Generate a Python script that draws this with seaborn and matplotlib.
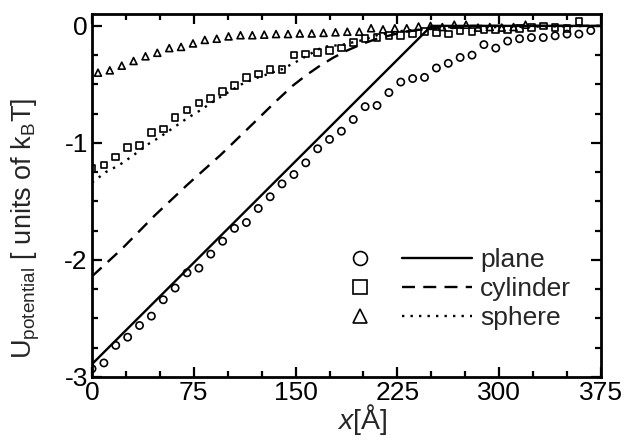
import numpy as np
import pandas as pd
import matplotlib
matplotlib.use("Agg")
import matplotlib.pyplot as plt
import seaborn as sns
from matplotlib.ticker import MultipleLocator
from matplotlib.legend_handler import HandlerTuple
from matplotlib.lines import Line2D

# ---------------- data ----------------
# simulated points (symbols)
x_plane = [0, 8.75, 17.5, 26.25, 35, 43.75, 52.5, 61.25, 70, 78.75, 87.5, 96.25,
           105, 113.75, 122.5, 131.25, 140, 148.75, 157.5, 166.25, 175, 183.75,
           192.5, 201.25, 210, 218.75, 227.5, 236.25, 245, 253.75, 262.5, 271.25,
           280, 288.75, 297.5, 306.25, 315, 323.75, 332.5, 341.25, 350, 358.75, 367.5]
u_plane = [-2.93, -2.88, -2.73, -2.66, -2.56, -2.48, -2.34, -2.24, -2.11, -2.07,
           -1.95, -1.84, -1.73, -1.68, -1.56, -1.46, -1.35, -1.27, -1.17, -1.05,
           -0.97, -0.90, -0.80, -0.69, -0.68, -0.57, -0.48, -0.45, -0.44, -0.36,
           -0.32, -0.27, -0.25, -0.16, -0.19, -0.13, -0.11, -0.10, -0.10, -0.085,
           -0.07, -0.07, -0.04]

x_cyl = [0, 8.75, 17.5, 26.25, 35, 43.75, 52.5, 61.25, 70, 78.75, 87.5, 96.25,
         105, 113.75, 122.5, 131.25, 140, 148.75, 157.5, 166.25, 175, 183.75,
         192.5, 201.25, 210, 218.75, 227.5, 236.25, 245, 253.75, 262.5, 271.25,
         280, 288.75, 297.5, 306.25, 315, 323.75, 332.5, 341.25, 350, 358.75]
u_cyl = [-1.22, -1.19, -1.12, -1.04, -1.02, -0.91, -0.88, -0.78, -0.72, -0.66,
         -0.62, -0.56, -0.51, -0.44, -0.41, -0.37, -0.37, -0.25, -0.24, -0.23,
         -0.21, -0.19, -0.14, -0.11, -0.10, -0.08, -0.08, -0.07, -0.05, -0.06,
         -0.07, -0.045, -0.05, -0.03, -0.03, -0.03, -0.02, -0.015, 0.0, -0.015,
         -0.02, 0.035]

x_sph = [4.4, 13.1, 21.9, 30.6, 39.4, 48.1, 56.9, 65.6, 74.4, 83.1, 91.9, 100.6,
         109.4, 118.1, 126.9, 135.6, 144.4, 153.1, 161.9, 170.6, 179.4, 188.1,
         196.9, 205.6, 214.4, 223.1, 231.9, 240.6, 249.4, 258.1, 266.9, 275.6,
         284.4, 293.1, 301.9, 310.6, 319.4]
u_sph = [-0.40, -0.38, -0.34, -0.30, -0.26, -0.23, -0.19, -0.18, -0.15, -0.12,
         -0.11, -0.09, -0.08, -0.08, -0.075, -0.07, -0.07, -0.065, -0.065, -0.06,
         -0.055, -0.05, -0.05, -0.02, -0.03, -0.02, -0.02, -0.005, 0.0, -0.01,
         0.01, 0.01, -0.015, -0.01, -0.015, -0.01, 0.01]

# theory curves (lines)
xt_plane = [0, 250, 375]
ut_plane = [-2.89, 0.0, 0.0]

xt_cyl = [0, 21.6, 46.2, 70, 95, 120, 135, 148, 158, 168, 178, 188, 200, 210,
          230, 250, 280, 375]
ut_cyl = [-2.14, -1.91, -1.62, -1.36, -1.10, -0.82, -0.65, -0.51, -0.42, -0.34,
          -0.27, -0.21, -0.15, -0.11, -0.05, -0.02, 0.0, 0.0]

xt_sph = [0, 10, 20, 30, 40, 50, 60, 70, 80, 90, 100, 110, 120, 140, 150, 170,
          185, 200, 210, 230, 260, 300, 375]
ut_sph = [-1.34, -1.25, -1.19, -1.11, -1.02, -0.95, -0.87, -0.79, -0.72, -0.64,
          -0.57, -0.50, -0.45, -0.37, -0.31, -0.18, -0.16, -0.12, -0.08, -0.04,
          -0.02, -0.01, 0.0]

labels = ["plane", "cylinder", "sphere"]
x_ticks = [0, 75, 150, 225, 300, 375]
y_ticks = [-3, -2, -1, 0]

# ---------------- style ----------------
sns.set_theme(style="ticks")
plt.rcParams["font.family"] = ["Liberation Sans", "DejaVu Sans"]
plt.rcParams["mathtext.fontset"] = "custom"
plt.rcParams["mathtext.rm"] = "Liberation Sans"
plt.rcParams["mathtext.it"] = "Liberation Sans:italic"
plt.rcParams["mathtext.bf"] = "Liberation Sans:bold"

FS = 19

fig = plt.figure(figsize=(6.26, 4.43), dpi=100)
ax = fig.add_axes([0.147, 0.149, 0.813, 0.819])

pts = pd.DataFrame({
    "x": x_plane + x_cyl + x_sph,
    "u": u_plane + u_cyl + u_sph,
    "kind": [labels[0]] * len(x_plane) + [labels[1]] * len(x_cyl) + [labels[2]] * len(x_sph),
})
markers = {"plane": "o", "cylinder": "s", "sphere": "^"}
sizes = {"plane": 5.2, "cylinder": 4.8, "sphere": 5.0}
for k in labels:
    sub = pts[pts["kind"] == k]
    sns.scatterplot(data=sub, x="x", y="u", ax=ax, marker=markers[k],
                    s=sizes[k] ** 2, facecolor="none", edgecolor="black",
                    linewidth=1.2, legend=False, zorder=3)

curves = pd.DataFrame({
    "x": xt_plane + xt_cyl + xt_sph,
    "u": ut_plane + ut_cyl + ut_sph,
    "kind": [labels[0]] * len(xt_plane) + [labels[1]] * len(xt_cyl) + [labels[2]] * len(xt_sph),
})
styles = {"plane": "-", "cylinder": (0, (5.5, 3.5)), "sphere": (0, (1.0, 2.6))}
for k in labels:
    sub = curves[curves["kind"] == k]
    sns.lineplot(data=sub, x="x", y="u", ax=ax, color="black", linewidth=1.7,
                 linestyle=styles[k], legend=False, zorder=2, sort=False)

ax.set_xlim(0, 375)
ax.set_ylim(-3, 0.1)
ax.set_xticks(x_ticks)
ax.set_yticks(y_ticks)
ax.set_xticklabels([str(t) for t in x_ticks])
ax.set_yticklabels([str(t) for t in y_ticks])
ax.xaxis.set_minor_locator(MultipleLocator(25))
ax.yaxis.set_minor_locator(MultipleLocator(0.25))
ax.tick_params(which="both", direction="in", top=True, right=True,
               width=1.6, colors="black", labelsize=FS)
ax.tick_params(which="major", length=7, pad=3)
ax.tick_params(which="minor", length=4)
for sp in ax.spines.values():
    sp.set_linewidth(2.0)
    sp.set_color("black")

ax.set_xlabel(r"$x$[Å]", fontsize=20.5)
ax.xaxis.set_label_coords(0.53, -0.068)
ax.set_ylabel(r"U$_{\mathrm{potential}}$ [ units of k$_{\mathrm{B}}$T]", fontsize=19.5)
ax.yaxis.set_label_coords(-0.098, 0.41)

# legend: symbol + line + label
handles = []
for k in labels:
    m = Line2D([], [], marker=markers[k], linestyle="none", markersize=10,
               markerfacecolor="none", markeredgecolor="black", markeredgewidth=1.2)
    l = Line2D([], [], color="black", linewidth=1.7, linestyle=styles[k])
    handles.append((m, l))
ax.legend(handles, labels, handler_map={tuple: HandlerTuple(ndivide=None, pad=0.3)},
          loc="lower right", bbox_to_anchor=(0.978, 0.079), frameon=False,
          fontsize=FS, handlelength=5.6, handletextpad=0.3, labelspacing=0.18,
          borderpad=0.2)

fig.savefig("out.png", dpi=100)
